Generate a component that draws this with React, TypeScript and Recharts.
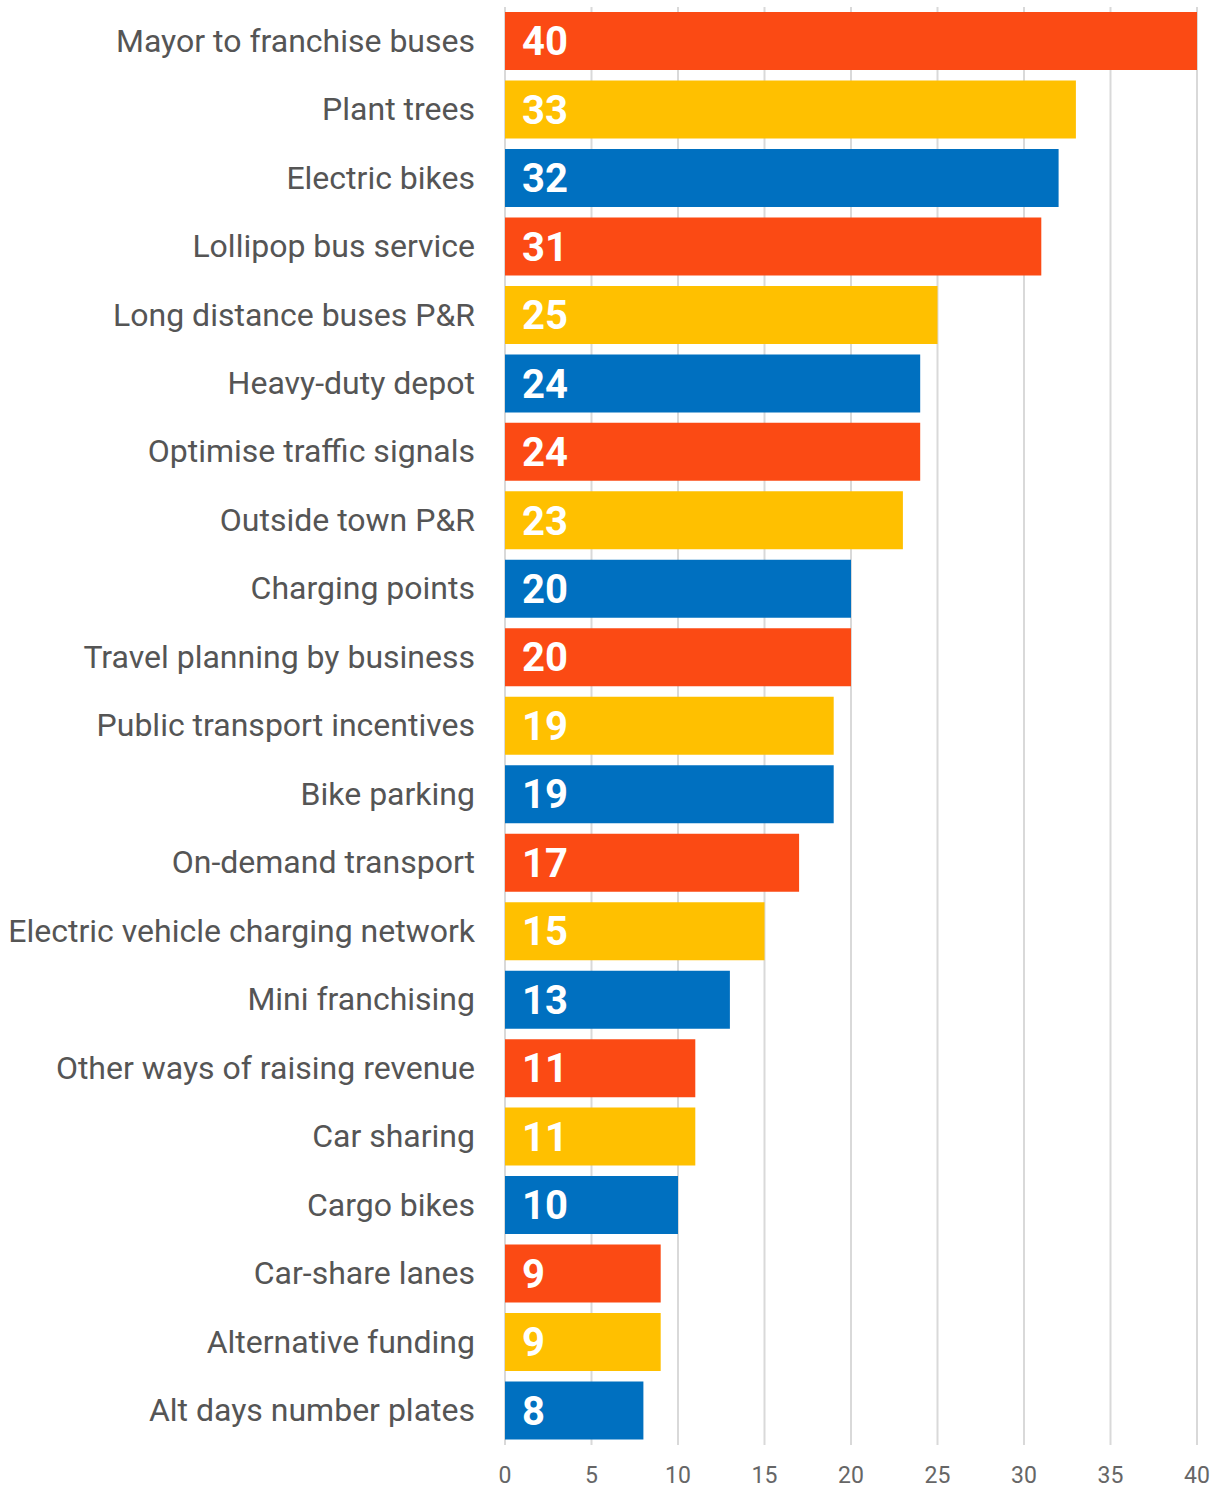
import React from "react";
import {
  BarChart,
  Bar,
  XAxis,
  YAxis,
  CartesianGrid,
  LabelList,
  Cell,
} from "recharts";

const categories = [
  "Mayor to franchise buses",
  "Plant trees",
  "Electric bikes",
  "Lollipop bus service",
  "Long distance buses P&R",
  "Heavy-duty depot",
  "Optimise traffic signals",
  "Outside town P&R",
  "Charging points",
  "Travel planning by business",
  "Public transport incentives",
  "Bike parking",
  "On-demand transport",
  "Electric vehicle charging network",
  "Mini franchising",
  "Other ways of raising revenue",
  "Car sharing",
  "Cargo bikes",
  "Car-share lanes",
  "Alternative funding",
  "Alt days number plates",
];

const votes = [40, 33, 32, 31, 25, 24, 24, 23, 20, 20, 19, 19, 17, 15, 13, 11, 11, 10, 9, 9, 8];

const xTicks = [0, 5, 10, 15, 20, 25, 30, 35, 40];

const palette = ["#FB4A14", "#FFC000", "#0070C0"];

const data = categories.map((name, i) => ({ name, votes: votes[i] }));

if (typeof document !== "undefined") {
  document.body.style.margin = "0";
}

export default function App() {
  return (
    <div style={{ width: 1219, height: 1488, background: "#fff", fontFamily: "Roboto" }}>
      <BarChart
        width={1219}
        height={1488}
        data={data}
        layout="vertical"
        margin={{ top: 7, right: 22, bottom: 0, left: 0 }}
      >
        <CartesianGrid horizontal={false} stroke="#d9d9d9" strokeWidth={2} />
        <XAxis
          type="number"
          domain={[0, 40]}
          ticks={xTicks}
          axisLine={false}
          tickLine={false}
          height={43}
          tickSize={0}
          tickMargin={22}
          tick={{ fill: "#666", fontSize: 23, fontFamily: "Roboto" }}
          interval={0}
        />
        <YAxis
          type="category"
          dataKey="name"
          width={505}
          axisLine={false}
          tickLine={false}
          tickSize={0}
          tickMargin={30}
          interval={0}
          tick={{ fill: "#555", fontSize: 32, fontFamily: "Roboto", dy: -1 }}
        />
        <Bar dataKey="votes" barSize={58} isAnimationActive={false}>
          {data.map((entry, index) => (
            <Cell key={`cell-${index}`} fill={palette[index % palette.length]} />
          ))}
          <LabelList
            dataKey="votes"
            position="insideLeft"
            offset={17}
            fill="#fff"
            style={{ fontSize: 40, fontWeight: 700, fontFamily: "Roboto" }}
          />
        </Bar>
      </BarChart>
    </div>
  );
}
